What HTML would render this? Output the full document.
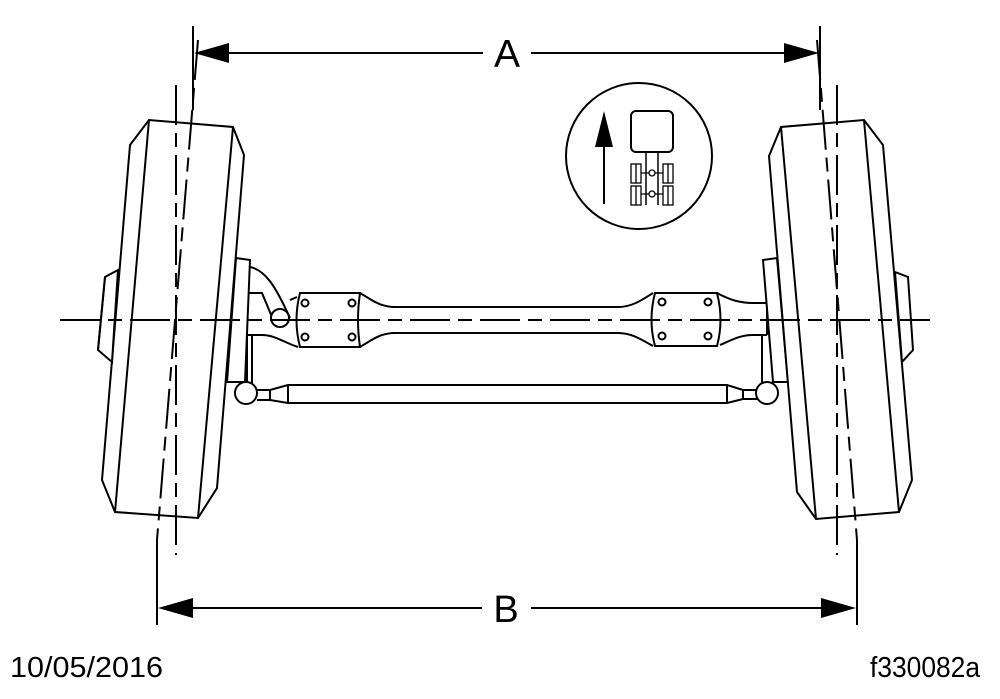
<!DOCTYPE html>
<html><head><meta charset="utf-8"><style>
html,body{margin:0;padding:0;background:#fff;}
svg{display:block;}
</style></head><body>
<svg width="1000" height="699" viewBox="0 0 1000 699" xmlns="http://www.w3.org/2000/svg">
<g fill="none" stroke="#000" stroke-width="2" stroke-linejoin="miter">
<!-- center line -->
<line x1="60" y1="320" x2="930" y2="320" stroke-dasharray="40,8,14,8"/>

<!-- LEFT WHEEL -->
<polygon points="130,145 149,120 233,127 244,155 217,488 198,518 115,512 102,480" fill="#fff"/>
<line x1="149" y1="120" x2="115" y2="512"/>
<line x1="233" y1="127" x2="198" y2="518"/>
<polygon points="118,270 105,277 98,350 112,362" fill="#fff"/>
<line x1="105" y1="277" x2="98" y2="350"/>
<polygon points="236,258 250,260 245,382 227,382"/>
<line x1="176" y1="85" x2="176" y2="555" stroke-dasharray="40,8,14,8"/>
<line x1="198" y1="40" x2="157" y2="540" stroke-dasharray="40,8,14,8"/>
<line x1="193" y1="26" x2="193" y2="110"/>
<line x1="157" y1="540" x2="157" y2="625"/>

<!-- steering arm -->
<path d="M250,267 C265,270 275,285 290,318"/>
<path d="M248,293 L262,293 L272,317"/>
<circle cx="280" cy="318" r="9" fill="#fff"/>
<path d="M290,300 L297,297"/>

<!-- left boss -->
<path d="M300,293 L360,293 Q356,320 360,347 L300,347 Q293,320 300,293 Z" fill="#fff"/>
<circle cx="305" cy="303" r="3.5"/><circle cx="352" cy="303" r="3.5"/>
<circle cx="305" cy="337" r="3.5"/><circle cx="352" cy="337" r="3.5"/>
<path d="M247,335 L262,335 C275,335 285,343 298,347"/>
<!-- beam -->
<path d="M360,293 C372,300 380,307 395,307 L618,307 C632,307 642,300 653,293"/>
<path d="M360,347 C372,340 380,333 395,333 L618,333 C632,333 642,340 653,346"/>
<!-- right boss -->
<path d="M655,293 L717,293 Q724,320 717,346 L655,346 Q648,320 655,293 Z" fill="#fff"/>
<circle cx="662" cy="302" r="3.5"/><circle cx="708" cy="302" r="3.5"/>
<circle cx="662" cy="336" r="3.5"/><circle cx="708" cy="336" r="3.5"/>
<path d="M717,293 C730,300 740,303 753,303 L767,303"/>
<path d="M720,345 C732,340 740,335 753,335 L767,335"/>

<!-- tie rod -->
<line x1="247" y1="335" x2="247" y2="383"/>
<line x1="252" y1="335" x2="252" y2="383"/>
<path d="M257,390 L270,390 L288,385 L727,385 L743,390 L757,390"/>
<path d="M257,400 L270,400 L288,403 L727,403 L743,399 L757,399"/>
<line x1="288" y1="385" x2="288" y2="403"/>
<line x1="727" y1="385" x2="727" y2="403"/>
<line x1="270" y1="390" x2="270" y2="400"/>
<line x1="743" y1="390" x2="743" y2="399"/>
<circle cx="246" cy="393" r="11" fill="#fff"/>
<circle cx="767" cy="393" r="11" fill="#fff"/>
<line x1="762" y1="335" x2="762" y2="383"/>
<line x1="767" y1="303" x2="767" y2="335"/>

<!-- RIGHT WHEEL -->
<polygon points="763,260 777,258 788,382 773,382" fill="#fff"/>
<polygon points="769,156 781,127 864,120 883,145 912,480 899,512 816,519 797,492" fill="#fff"/>
<line x1="781" y1="127" x2="816" y2="519"/>
<line x1="864" y1="120" x2="899" y2="512"/>
<polygon points="895,272 908,277 913,350 902,362" fill="#fff"/>
<line x1="837" y1="85" x2="837" y2="555" stroke-dasharray="40,8,14,8"/>
<line x1="817" y1="40" x2="857" y2="540" stroke-dasharray="40,8,14,8"/>
<line x1="820" y1="26" x2="820" y2="110"/>
<line x1="857" y1="540" x2="857" y2="625"/>
<line x1="60" y1="320" x2="930" y2="320" stroke-dasharray="40,8,14,8"/>

<!-- dimension lines -->
<line x1="228" y1="53" x2="483" y2="53"/>
<line x1="531" y1="53" x2="785" y2="53"/>
<line x1="192" y1="608" x2="482" y2="608"/>
<line x1="531" y1="608" x2="822" y2="608"/>

<!-- inset -->
<circle cx="639" cy="156" r="73" fill="#fff"/>
<line x1="604" y1="145" x2="604" y2="204"/>
<rect x="631" y="111" width="42" height="41" rx="5"/>
<line x1="646" y1="152" x2="646" y2="205" stroke-width="1.5"/>
<line x1="658" y1="152" x2="658" y2="205" stroke-width="1.5"/>
<g stroke-width="1.3">
<rect x="631" y="164" width="10" height="19"/><line x1="636" y1="164" x2="636" y2="183"/>
<rect x="663" y="164" width="10" height="19"/><line x1="668" y1="164" x2="668" y2="183"/>
<rect x="631" y="186" width="10" height="19"/><line x1="636" y1="186" x2="636" y2="205"/>
<rect x="663" y="186" width="10" height="19"/><line x1="668" y1="186" x2="668" y2="205"/>
<line x1="641" y1="173" x2="663" y2="173"/><line x1="641" y1="194" x2="663" y2="194"/>
<circle cx="652" cy="173" r="3" fill="#fff"/><circle cx="652" cy="194" r="3" fill="#fff"/>
</g>
</g>
<g fill="#000">
<polygon points="604,111 595,147 613,147"/>
<polygon points="194,53 229,43 229,63"/>
<polygon points="819,53 784,43 784,63"/>
<polygon points="158,608 193,598 193,618"/>
<polygon points="856,608 821,598 821,618"/>
</g>
<g font-family="Liberation Sans, Arial, sans-serif" fill="#000">
<text x="507" y="67" font-size="39" text-anchor="middle">A</text>
<text x="506" y="622" font-size="38" text-anchor="middle">B</text>
<text x="10" y="677" font-size="29" textLength="153" lengthAdjust="spacingAndGlyphs">10/05/2016</text>
<text x="870" y="677" font-size="29" textLength="110" lengthAdjust="spacingAndGlyphs">f330082a</text>
</g>
</svg>
</body></html>
